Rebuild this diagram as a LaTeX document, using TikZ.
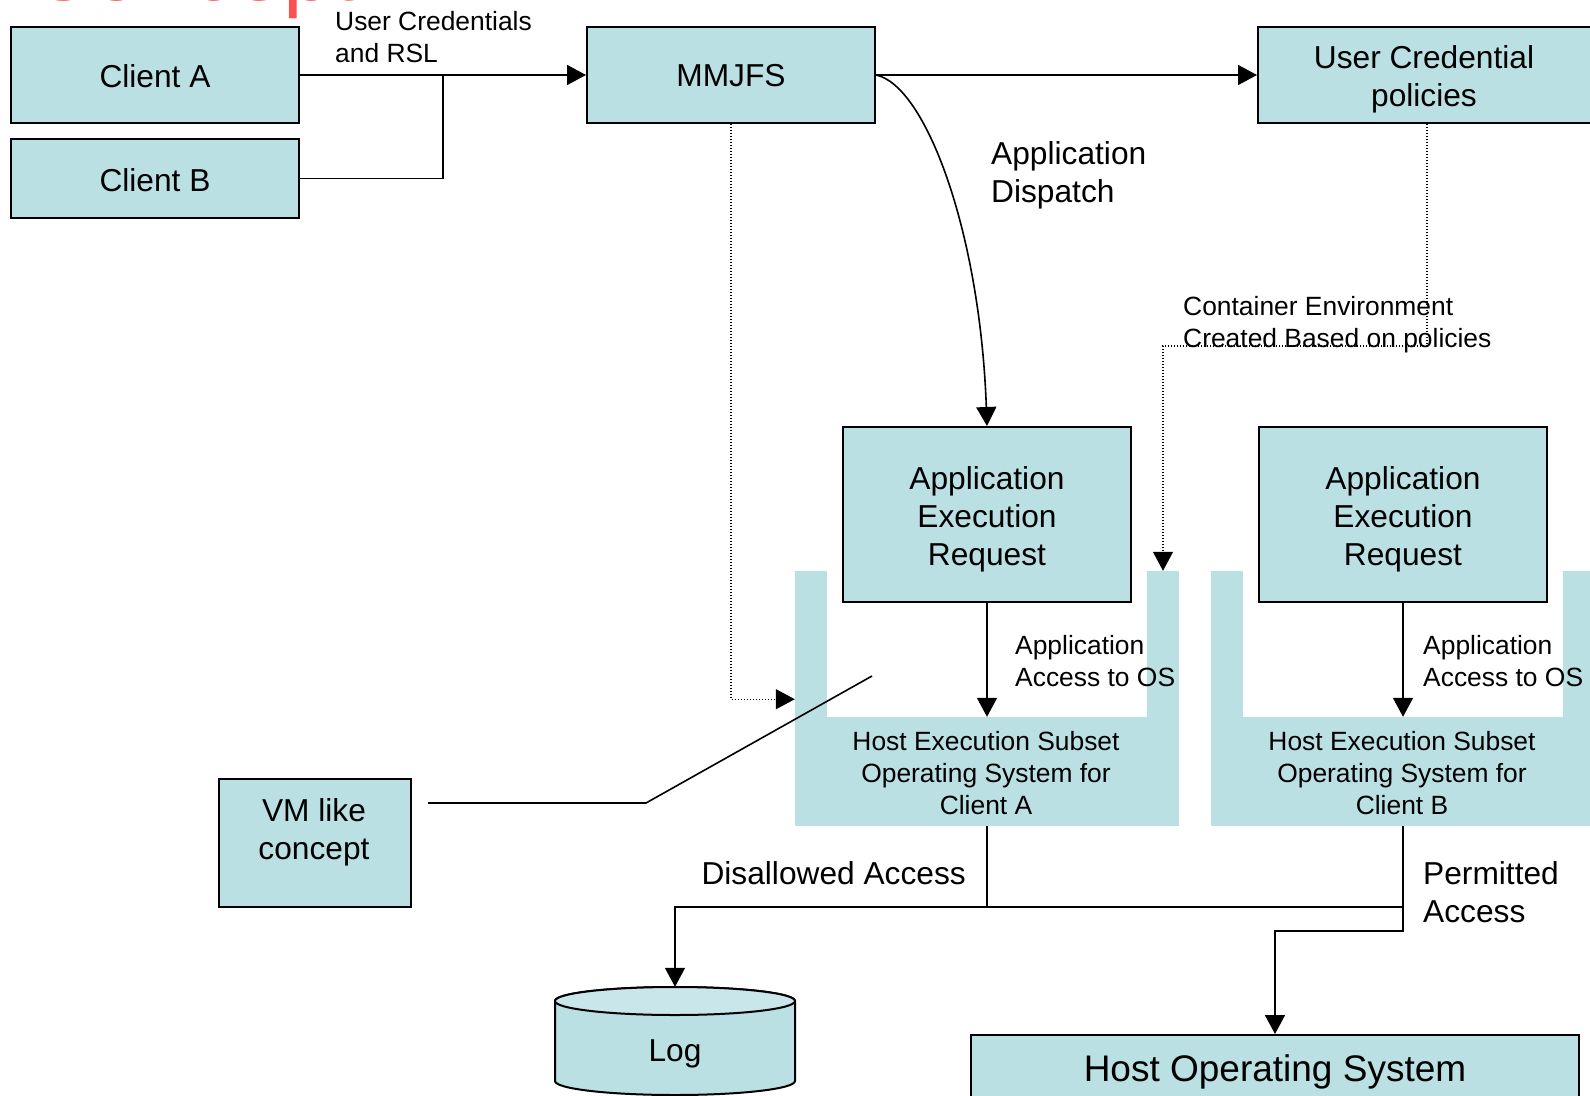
\documentclass[tikz,border=0pt]{standalone}
\usepackage{fontspec}
\setmainfont{Liberation Sans}
\usetikzlibrary{arrows.meta,calc}
\definecolor{lb}{RGB}{187,224,227}
\definecolor{lbt}{RGB}{201,231,234}
\definecolor{ttl}{RGB}{255,80,80}
\begin{document}
\begin{tikzpicture}[x=1pt,y=-1pt,
  box/.style={draw=black,line width=2pt,fill=lb,inner sep=0pt},
  bigt/.style={font=\fontsize{31.7}{38}\selectfont,align=center,inner sep=0pt},
  smt/.style={font=\fontsize{26.4}{32}\selectfont,align=left,inner sep=0pt},
  conn/.style={line width=1.6pt},
  arr/.style={conn,-{Triangle[length=19pt,width=20pt]}},
  dotarr/.style={line width=1.2pt,dash pattern=on 1.2pt off 1.8pt,-{Triangle[length=19pt,width=20pt]}},
  wall/.style={fill=lb,inner sep=0pt,minimum width=32pt,minimum height=149pt},
  hostbase/.style={fill=lb,inner sep=0pt,minimum width=384pt,minimum height=109pt},
]
\useasboundingbox (0,0) rectangle (1590,1095);

% title fragment
\node[font=\fontsize{88}{100}\selectfont,text=ttl,anchor=base west,inner sep=0pt] (title) at (29,0) {Concept};

% top boxes
\node[box,minimum width=288pt,minimum height=96pt] (clientA) at (155,75) {};
\node[bigt] (clientAt) at (155,76) {Client A};
\node[box,minimum width=288pt,minimum height=79pt] (clientB) at (155,178.5) {};
\node[bigt] (clientBt) at (155,180.5) {Client B};
\node[box,minimum width=288pt,minimum height=96pt] (mmjfs) at (731,75) {};
\node[bigt] (mmjfst) at (731,76) {MMJFS};
\node[box,minimum width=334pt,minimum height=96pt] (ucp) at (1425,75) {};
\node[bigt] (ucpt) at (1424,79) {User Credential\\policies};

% containers
\node[wall] (wallAL) at (811,645.5) {};
\node[wall] (wallAR) at (1163,645.5) {};
\node[hostbase] (hostA) at (987,771.5) {};
\node[smt,align=center] (hostAt) at (986,773.5) {Host Execution Subset\\Operating System for\\Client A};
\node[wall] (wallBL) at (1227,645.5) {};
\node[wall] (wallBR) at (1579,645.5) {};
\node[hostbase] (hostB) at (1403,771.5) {};
\node[smt,align=center] (hostBt) at (1402,773.5) {Host Execution Subset\\Operating System for\\Client B};

% request boxes
\node[box,minimum width=288pt,minimum height=175pt] (aerA) at (987,514.5) {};
\node[bigt] (aerAt) at (987,519.5) {Application\\Execution\\Request};
\node[box,minimum width=288pt,minimum height=175pt] (aerB) at (1403,514.5) {};
\node[bigt] (aerBt) at (1403,519.5) {Application\\Execution\\Request};

% VM box
\node[box,minimum width=192pt,minimum height=128pt] (vm) at (315,843) {};
\node[bigt] (vmtxt) at (314,832) {VM like\\concept};

% log cylinder
\filldraw[fill=lb,line width=2pt] (555,1001) -- (555,1081)
  arc[start angle=180,end angle=360,x radius=120pt,y radius=14pt]
  -- (795,1001) arc[start angle=0,end angle=180,x radius=120pt,y radius=14pt] -- cycle;
\filldraw[fill=lbt,line width=2pt] (675,1001) ellipse[x radius=120pt,y radius=14pt];
\node[inner sep=0pt,minimum width=240pt,minimum height=108pt] (log) at (675,1041) {};
\node[bigt] (logtxt) at (675,1054) {Log};

% host OS
\node[box,minimum width=608pt,minimum height=70pt] (hos) at (1275,1070) {};
\node[font=\fontsize{37}{44}\selectfont,inner sep=0pt] (host) at (1275,1072) {Host Operating System};

% labels
\node[smt,anchor=west] (lblUC) at (335,37) {User Credentials\\and RSL};
\node[bigt,align=left,anchor=west] (lblAD) at (991,175) {Application\\Dispatch};
\node[smt,anchor=west] (lblCE) at (1183,325) {Container Environment\\Created Based on policies};
\node[smt,anchor=west] (lblAA) at (1015,661.5) {Application\\Access to OS};
\node[smt,anchor=west] (lblAB) at (1423,661.5) {Application\\Access to OS};
\node[bigt,anchor=east] (lblDA) at (966,873) {Disallowed Access};
\node[bigt,align=left,anchor=west] (lblPA) at (1423,892) {Permitted\\Access};

% connectors
\coordinate (join) at (443,75);
\draw[arr] (clientA.east) -- (mmjfs.west);
\draw[conn] (clientB.east) -| (join);
\draw[arr] (mmjfs.east) -- (ucp.west);
\draw[arr] (mmjfs.east) .. controls (925,85) and (980,230) .. (aerA.north);
\draw[dotarr] (mmjfs.south) |- ([yshift=21pt]wallAL.south west);
\draw[dotarr] ([xshift=2pt]ucp.south) -- ++(0,222) -| (wallAR.north);
\draw[arr] (aerA.south) -- (hostA.north);
\draw[arr] (aerB.south) -- (hostB.north);
\coordinate (vmend) at (872,676);
\draw[conn] ($(vm.east)+(16,-40)$) -- ++(218,0) -- (vmend);
\coordinate (jB) at (hostB.south |- 0,907);
\draw[conn] (hostA.south) -- (hostA.south |- jB);
\draw[arr] (jB) -| (log.north);
\draw[arr] (hostB.south) -- ++(0,105) -| (hos.north);
\end{tikzpicture}
\end{document}
